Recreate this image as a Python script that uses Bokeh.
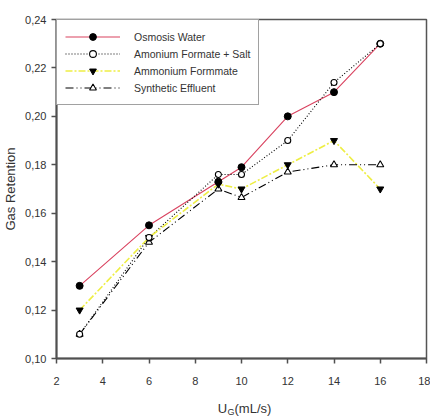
from bokeh.plotting import figure
from bokeh.models import Range1d, FixedTicker, Legend, LegendItem
from bokeh.layouts import column
from bokeh.core.properties import value
from bokeh.embed import file_html
from bokeh.resources import INLINE

# ---- data ----
x_vals = [3, 6, 9, 10, 12, 14, 16]
osmosis_water = [0.130, 0.155, 0.173, 0.179, 0.200, 0.210, 0.230]
formate_salt = [0.110, 0.150, 0.176, 0.176, 0.190, 0.214, 0.230]
ammonium_formate = [0.120, 0.150, 0.172, 0.170, 0.180, 0.190, 0.170]
synthetic_effluent = [0.110, 0.148, 0.170, 0.1665, 0.177, 0.180, 0.180]

series_names = ["Osmosis Water", "Amonium Formate + Salt", "Ammonium Formmate", "Synthetic Effluent"]

x_ticks = [2, 4, 6, 8, 10, 12, 14, 16, 18]
y_ticks = [0.10, 0.12, 0.14, 0.16, 0.18, 0.20, 0.22, 0.24]
y_tick_labels = ["0,10", "0,12", "0,14", "0,16", "0,18", "0,20", "0,22", "0,24"]

x_label_main = "U"
x_label_sub = "G"
x_label_unit = "(mL/s)"

FONT = "Liberation Sans"
TXT = "#333333"

p = figure(width=430, height=399, output_backend="svg", toolbar_location=None,
           x_range=Range1d(2, 18), y_range=Range1d(0.10, 0.24),
           min_border_left=54, min_border_right=4, min_border_top=19, min_border_bottom=41)

p.background_fill_color = "white"
p.border_fill_color = "white"
p.outline_line_color = "#555555"
p.outline_line_width = 1.5
p.grid.visible = False

for ax in (p.xaxis[0], p.yaxis[0]):
    ax.axis_line_color = "#505050"
    ax.axis_line_width = 2
    ax.major_tick_line_color = "#505050"
    ax.major_tick_line_width = 1.5
    ax.major_tick_out = 5
    ax.major_tick_in = 0
    ax.minor_tick_line_color = None
    ax.major_label_text_font = FONT
    ax.major_label_text_font_size = "11px"
    ax.major_label_text_color = TXT

p.xaxis.ticker = FixedTicker(ticks=x_ticks)
p.yaxis.ticker = FixedTicker(ticks=y_ticks)
p.yaxis.major_label_overrides = {t: l for t, l in zip(y_ticks, y_tick_labels)}
p.xaxis.major_label_standoff = 13
p.yaxis.major_label_standoff = 5

p.yaxis.axis_label = "Gas Retention"
p.yaxis.axis_label_text_font = FONT
p.yaxis.axis_label_text_font_size = "13px"
p.yaxis.axis_label_text_font_style = "normal"
p.yaxis.axis_label_text_color = TXT
p.yaxis.axis_label_standoff = 4

# lines
l1 = p.line(x_vals, osmosis_water, line_color="#d9425f", line_width=1.1)
l2 = p.line(x_vals, formate_salt, line_color="black", line_width=1.1, line_dash="1 2")
l3 = p.line(x_vals, ammonium_formate, line_color="#eeee44", line_width=1.6, line_dash="7 2 2 2")
l4 = p.line(x_vals, synthetic_effluent, line_color="black", line_width=1.1, line_dash="8 3 1 3 1 3")

# markers
m1 = p.scatter(x_vals, osmosis_water, marker="circle", size=7, fill_color="black", line_color="black")
m4 = p.scatter(x_vals, synthetic_effluent, marker="triangle", size=7, fill_color="white", line_color="black", line_width=1.1)
m3 = p.scatter(x_vals, ammonium_formate, marker="inverted_triangle", size=7, fill_color="black", line_color="black")
m2 = p.scatter(x_vals, formate_salt, marker="circle", size=6, fill_color="white", line_color="black", line_width=1.1)

legend = Legend(items=[
    LegendItem(label=series_names[0], renderers=[l1, m1]),
    LegendItem(label=series_names[1], renderers=[l2, m2]),
    LegendItem(label=series_names[2], renderers=[l3, m3]),
    LegendItem(label=series_names[3], renderers=[l4, m4]),
], location="top_left")
legend.margin = 0
legend.padding = 8
legend.spacing = 0
legend.glyph_width = 55
legend.glyph_height = 17
legend.label_height = 17
legend.label_standoff = 14
legend.label_text_font = FONT
legend.label_text_font_size = "10.5px"
legend.label_text_color = TXT
legend.border_line_color = "#444444"
legend.border_line_width = 1.5
legend.background_fill_alpha = 1
p.add_layout(legend)

# strip below the plot carrying the x-axis title with its subscript.
# Its frame is aligned with the main plot's frame by the column layout,
# so its x range spans the frame's 372 px width.
lab = figure(width=430, height=17, output_backend="svg", toolbar_location=None,
             x_axis_type=None, y_axis_type=None,
             x_range=Range1d(0, 372), y_range=Range1d(0, 17),
             min_border_left=0, min_border_right=0, min_border_top=0, min_border_bottom=0)
lab.grid.visible = False
lab.outline_line_color = None
lab.background_fill_color = "white"
lab.border_fill_color = "white"
lab.text(x=[162], y=[8], text=[x_label_main], text_font=value(FONT), text_font_size="13px",
         text_color=TXT, text_baseline="alphabetic")
lab.text(x=[172], y=[5], text=[x_label_sub], text_font=value(FONT), text_font_size="9px",
         text_color=TXT, text_baseline="alphabetic")
lab.text(x=[179], y=[8], text=[x_label_unit], text_font=value(FONT), text_font_size="13px",
         text_color=TXT, text_baseline="alphabetic")

layout = column(p, lab, spacing=0)
open("out.html", "w").write(file_html(layout, INLINE))
